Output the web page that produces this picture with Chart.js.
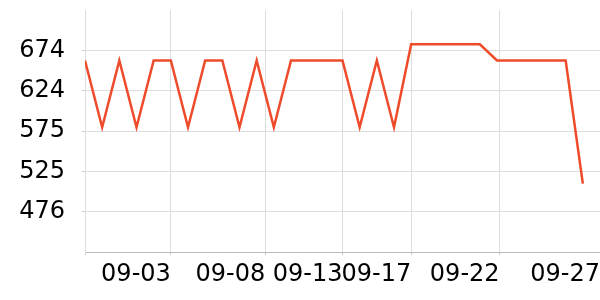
<!DOCTYPE html>
<html>
<head>
<meta charset="utf-8">
<script src="https://cdn.jsdelivr.net/npm/chart.js@4"></script>
<style>
    html, body { margin: 0; padding: 0; background: #fff; }
    #wrap { width: 600px; height: 300px; }
</style>
</head>
<body>
<div id="wrap"><canvas id="lineChart" width="600" height="300"></canvas></div>
<script>
// one value per day
const values = [661, 579, 661, 579, 661, 661, 579, 661, 661, 579,
                661, 579, 661, 661, 661, 661, 579, 661, 579, 681,
                681, 681, 681, 681, 661, 661, 661, 661, 661, 510];

// x ticks sit at these day positions, label right-aligned to the tick
const xTickPos = [0, 5, 10.5, 15, 19, 24.15, 30];
const xTickLabels = ['', '09-03', '09-08', '09-13', '09-17', '09-22', '09-27'];

// y ticks (shown rounded)
const yTicks = [475.5, 525, 574.5, 624, 673.5];
const yMin = 426;
const yMax = 723;

const font = { family: 'DejaVu Sans', size: 24 };

function init() {
    const ctx = document.getElementById('lineChart').getContext('2d');
    const lastX = xTickPos.length - 1;

    new Chart(ctx, {
        type: 'line',
        data: {
            datasets: [{
                data: values.map((v, i) => ({ x: i, y: v })),
                borderColor: '#ee4b2b',
                borderWidth: 2.5,
                pointRadius: 0,
                tension: 0,
                fill: false
            }]
        },
        options: {
            responsive: false,
            animation: false,
            layout: { padding: { top: 10, right: 0, left: 0, bottom: 0 } },
            plugins: { legend: { display: false }, tooltip: { enabled: false } },
            scales: {
                x: {
                    type: 'linear',
                    min: 0,
                    max: 30,
                    afterBuildTicks: s => { s.ticks = xTickPos.map(v => ({ value: v })); },
                    afterFit: s => { s.height = 48; s.paddingLeft = 0; s.paddingRight = 0; },
                    border: { color: '#bbbbbb', width: 1 },
                    grid: {
                        color: c => (c.index === 0 || c.index === lastX) ? 'rgba(0,0,0,0)' : '#dddddd',
                        tickColor: c => c.index === lastX ? 'rgba(0,0,0,0)' : '#cccccc',
                        tickLength: 3
                    },
                    ticks: {
                        autoSkip: false,
                        maxRotation: 0,
                        align: 'end',
                        padding: 5,
                        color: '#000',
                        font,
                        callback: (v, i) => xTickLabels[i]
                    }
                },
                y: {
                    min: yMin,
                    max: yMax,
                    afterBuildTicks: s => { s.ticks = yTicks.map(v => ({ value: v })); },
                    afterFit: s => { s.width = 85; s.paddingTop = 0; s.paddingBottom = 0; },
                    border: { color: '#dddddd', width: 1 },
                    grid: { color: '#dddddd', tickColor: '#cccccc', tickLength: 3 },
                    ticks: {
                        padding: 17,
                        color: '#000',
                        font,
                        callback: v => Math.round(v)
                    }
                }
            }
        }
    });
}

document.addEventListener('DOMContentLoaded', init);
</script>
</body>
</html>
